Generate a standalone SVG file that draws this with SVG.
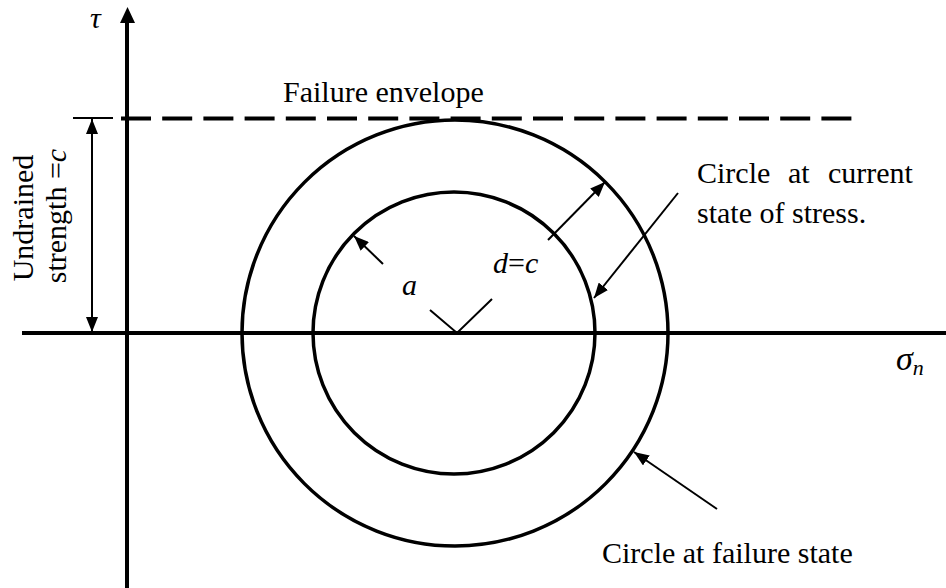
<svg xmlns="http://www.w3.org/2000/svg" width="946" height="588" viewBox="0 0 946 588">
<style>
  text { font-family: 'Liberation Serif', 'Times New Roman', 'DejaVu Serif', serif; font-size: 30px; fill: #000; }
  .i { font-style: italic; }
  .g { font-size: 34px; }
  .axis { stroke: #000; stroke-width: 4; fill: none; }
  .circ { stroke: #000; stroke-width: 3.5; fill: none; }
  .thin { stroke: #000; stroke-width: 2; fill: none; }
</style>
<defs>
  <marker id="arr" viewBox="0 0 15 12" refX="15" refY="6" markerWidth="15" markerHeight="12" markerUnits="userSpaceOnUse" orient="auto-start-reverse">
    <path d="M0,0 L15,6 L0,12 z" fill="#000"/>
  </marker>
</defs>
<rect width="946" height="588" fill="#fff"/>
<g id="axes">
  <path class="axis" d="M22,333 H946"/>
  <path class="axis" d="M127,588 V20"/>
  <polygon points="120,23 127.5,7 135,23" fill="#000"/>
  <text class="i" x="90" y="28" font-size="32">τ</text>
  <text class="i" x="896" y="370"><tspan class="g">σ</tspan><tspan font-size="22" dy="5">n</tspan></text>
</g>
<g id="envelope">
  <path class="axis" d="M121,118.5 H853" stroke-dasharray="30 11.2"/>
  <text x="283" y="102">Failure envelope</text>
</g>
<g id="strength">
  <path class="thin" d="M73,118 H113"/>
  <path class="thin" d="M92,119 V332" marker-start="url(#arr)" marker-end="url(#arr)"/>
  <text transform="translate(33,218) rotate(-90)" text-anchor="middle">Undrained</text>
  <text transform="translate(66,216) rotate(-90)" text-anchor="middle">strength =<tspan class="i">c</tspan></text>
</g>
<g id="outer-circle">
  <circle class="circ" cx="455" cy="333" r="213"/>
</g>
<g id="inner-circle">
  <circle class="circ" cx="454" cy="333" r="141"/>
</g>
<g id="connectors">
  <path class="thin" d="M383,264 L354,236" marker-end="url(#arr)"/>
  <path class="thin" d="M430,310 L457,333 L492,299"/>
  <path class="thin" d="M548,240 L605,182" marker-end="url(#arr)"/>
  <path class="thin" d="M678,193 L594,298" marker-end="url(#arr)"/>
  <path class="thin" d="M717,509 L634,452" marker-end="url(#arr)"/>
</g>
<g id="labels">
  <text class="i" x="402" y="295">a</text>
  <text x="493" y="273"><tspan class="i">d</tspan>=<tspan class="i">c</tspan></text>
  <text y="183"><tspan x="697">Circle</tspan><tspan x="788">at</tspan><tspan x="828">current</tspan></text>
  <text x="697" y="223">state of stress.</text>
  <text x="602" y="563">Circle at failure state</text>
</g>
</svg>
